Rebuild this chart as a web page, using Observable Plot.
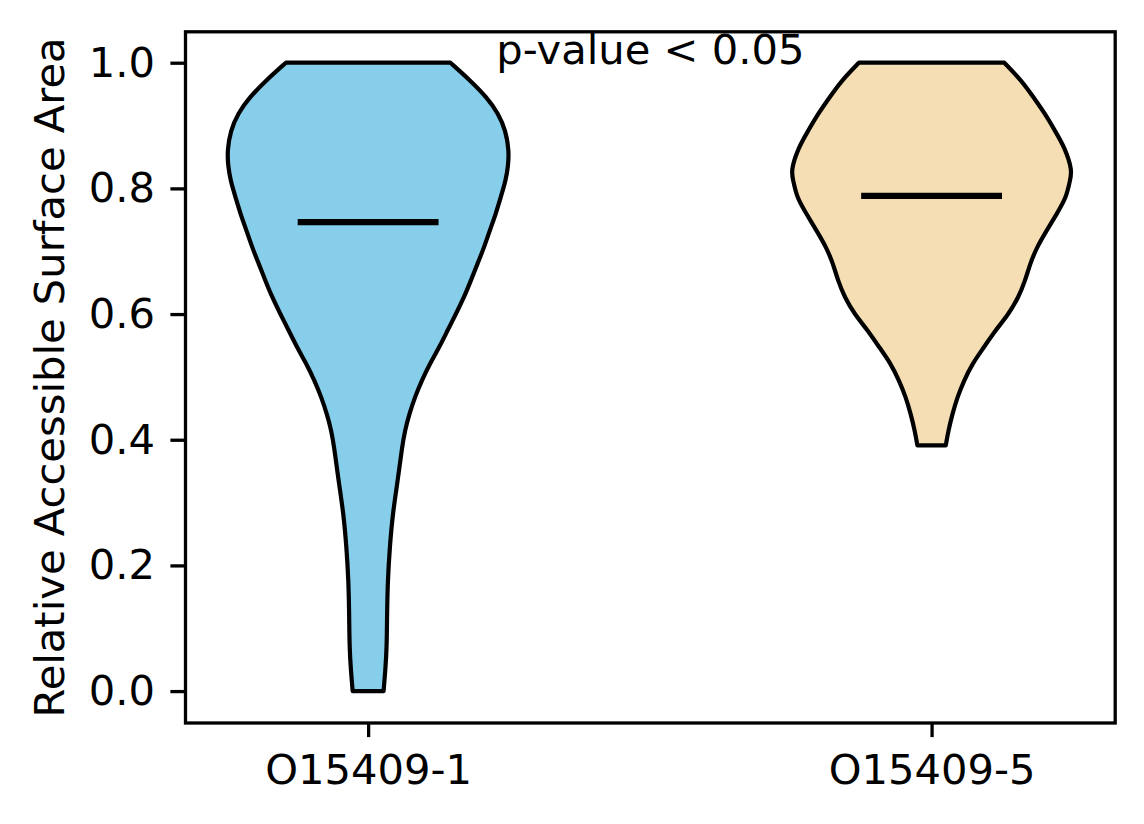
<!DOCTYPE html>
<html>
<head>
<meta charset="utf-8">
<script src="https://cdn.jsdelivr.net/npm/d3@7"></script>
<script src="https://cdn.jsdelivr.net/npm/@observablehq/plot@0.6"></script>
<style>
  html, body { margin: 0; padding: 0; background: white; }
</style>
</head>
<body>
<div id="chart"></div>
<script>
// Categories and positions
const categories = ["O15409-1", "O15409-5"];
const positions = [1, 2];
const fillColors = ["#87CEEB", "#F5DEB3"];

// Violin 1 (O15409-1): RSA values and KDE half-width (relative)
const rsa1 = [1.000, 0.972, 0.945, 0.919, 0.892, 0.860, 0.836, 0.812, 0.786, 0.759, 0.733, 0.706, 0.680, 0.653, 0.627, 0.600, 0.574, 0.547, 0.521, 0.494, 0.468, 0.441, 0.415, 0.388, 0.335, 0.283, 0.229, 0.176, 0.124, 0.070, 0.033, 0.000];
const dens1 = [82.5, 102.3, 119, 130.7, 138, 141.3, 140.5, 138, 133, 128, 122, 116.3, 109.7, 103, 96.3, 88, 79.7, 71.3, 62, 53.7, 47, 41.3, 37, 34, 29.7, 24.7, 21.7, 19.7, 19, 18.7, 17.3, 15.5];

// Violin 2 (O15409-5)
const rsa5 = [1.000, 0.971, 0.945, 0.919, 0.892, 0.865, 0.828, 0.812, 0.786, 0.759, 0.733, 0.706, 0.680, 0.653, 0.627, 0.600, 0.574, 0.547, 0.521, 0.494, 0.468, 0.441, 0.415, 0.391];
const dens5 = [73.3, 91, 102.7, 114.3, 124.3, 134.3, 142, 139.3, 136, 126, 116, 106, 99.3, 94.3, 87.7, 77.7, 64.3, 52.7, 41, 32.7, 26, 21, 17, 14.3];

const medians = [0.747, 0.789];
const yTicks = [0.0, 0.2, 0.4, 0.6, 0.8, 1.0];
const annotation = "p-value < 0.05";
const yLabel = "Relative Accessible Surface Area";

const violinWidth = 0.5;

function violinRows(pos, ys, ds) {
  const m = d3.max(ds);
  return ys.map((y, i) => ({pos, y, d: ds[i] / m}))
           .sort((a, b) => a.y - b.y);
}
const v1 = violinRows(positions[0], rsa1, dens1);
const v5 = violinRows(positions[1], rsa5, dens5);
const medianRows = positions.map((p, i) => ({pos: p, y: medians[i]}));

const font = "DejaVu Sans, sans-serif";
const fs = 41.67;

const chart = Plot.plot({
  width: 1144,
  height: 824,
  marginLeft: 185,
  marginRight: 29.3,
  marginTop: 31.3,
  marginBottom: 101.5,
  style: {fontFamily: font, fontSize: fs + "px", background: "white", color: "black"},
  x: {domain: [0.675, 2.325]},
  y: {domain: [-0.05, 1.05]},
  marks: [
    Plot.areaX(v1, {
      y: "y",
      x1: d => d.pos - violinWidth / 2 * d.d,
      x2: d => d.pos + violinWidth / 2 * d.d,
      fill: fillColors[0], stroke: "black", strokeWidth: 4.2, curve: "basis"
    }),
    Plot.areaX(v5, {
      y: "y",
      x1: d => d.pos - violinWidth / 2 * d.d,
      x2: d => d.pos + violinWidth / 2 * d.d,
      fill: fillColors[1], stroke: "black", strokeWidth: 4.2, curve: "basis"
    }),
    Plot.ruleY(medianRows, {
      y: "y",
      x1: d => d.pos - violinWidth / 4,
      x2: d => d.pos + violinWidth / 4,
      stroke: "black", strokeWidth: 6.25
    }),
    Plot.frame({stroke: "black", strokeWidth: 3.3}),
    Plot.axisY({
      ticks: yTicks, tickFormat: d3.format(".1f"),
      tickSize: 14.6, tickPadding: 16, strokeWidth: 3.3,
      fontSize: fs, fontFamily: font, label: null
    }),
    Plot.axisX({
      ticks: positions, tickFormat: d => categories[positions.indexOf(d)],
      tickSize: 14.6, tickPadding: 17, strokeWidth: 3.3,
      fontSize: fs, fontFamily: font, label: null
    }),
    Plot.text([annotation], {
      x: 1.5, y: 1.0, text: d => d, dy: 1,
      textAnchor: "middle", lineAnchor: "bottom",
      fontSize: fs, fontFamily: font, fill: "black"
    }),
    Plot.text([yLabel], {
      frameAnchor: "left", dx: -135, rotate: -90, text: d => d,
      textAnchor: "middle", lineAnchor: "middle",
      fontSize: fs, fontFamily: font, fill: "black"
    })
  ]
});
document.getElementById("chart").appendChild(chart);
</script>
</body>
</html>
